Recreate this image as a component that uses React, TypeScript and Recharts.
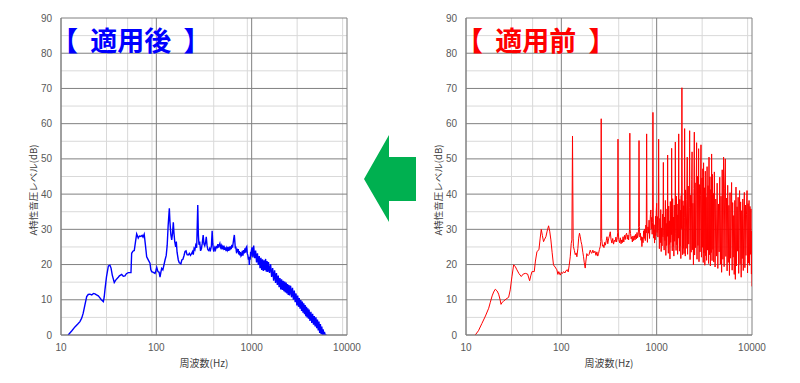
import { CartesianGrid, Line, LineChart, XAxis, YAxis } from 'recharts';

type Pair = [number, number];

const FREQ_TICKS = [10, 100, 1000, 10000];
const LEVEL_TICKS = [0, 10, 20, 30, 40, 50, 60, 70, 80, 90];
const MINOR_FREQS = [
  20, 30, 40, 50, 60, 70, 80, 90, 200, 300, 400, 500, 600, 700, 800, 900, 2000, 3000, 4000, 5000, 6000, 7000, 8000,
  9000,
];
const MINOR_LEVELS = [5, 15, 25, 35, 45, 55, 65, 75, 85];

// 適用後 (blue)
const afterLow: Pair[] = [
  [11.9, 0], [13, 1.2], [14, 2.3], [15, 3.1], [15.8, 3.8], [16.5, 4.8], [17.1, 6.2], [17.8, 8.5], [18.6, 10.9],
  [19.3, 11.5], [20.1, 11.6], [21, 11.4], [22, 11.8], [22.7, 11.7], [23.6, 11.4], [24.6, 11.1], [25.5, 10.6],
  [26.5, 10], [27.8, 9.5], [28.4, 10.8], [28.9, 12.8], [30, 16.5], [31.4, 19.6], [32.6, 19.8], [33.5, 19],
  [34.5, 17], [36.2, 14.9], [37.5, 15.6], [39.9, 16.4], [41, 16.8], [43.3, 17.2], [45, 16.7], [46.9, 16.8],
  [48.5, 17.4], [50.8, 17.7], [54.2, 17.7], [55.1, 23.2], [56.8, 23.8], [58.7, 24], [60.5, 26.5], [62.2, 28.7],
  [63.3, 28.2], [64.6, 27.5], [66.5, 28.1], [68.9, 28], [71, 28.3], [72.5, 27.8], [74.6, 28.6], [76.5, 26],
  [79.2, 22.2], [82, 21.4], [85.8, 20.4], [87.5, 18.6], [89.3, 18], [93, 17.8], [96.9, 17.5], [99, 18.3],
  [101, 19.2], [104, 18], [107, 17.8], [109.3, 16.4], [111.5, 17.8], [113.8, 18.9], [117, 18.5], [120, 19.8],
  [123.4, 21.3], [127, 22.6], [130, 25.5], [133, 31], [136.9, 36], [139, 32], [142, 28.5], [145, 27], [148, 29],
  [150.7, 32], [153, 29], [156, 26.5], [159.6, 25], [162, 26.5], [165, 23.5], [170, 21.3], [174, 20.5],
  [177, 20.4], [181, 20.2], [185, 21.3], [190, 21.5], [195, 22.5], [200, 23.7],
];

const afterMid: Pair[] = [
  [205, 23.9], [210, 22.8], [216, 22.7], [222, 23.2], [228, 22.6], [234, 23.1], [240, 23.7], [244, 22.8],
  [249, 24.6], [254, 24.2], [259, 25.5], [265, 24.8], [272, 36.9], [276, 28.5], [280, 25.6], [285, 26.5],
  [291, 23.9], [297, 24.5], [303, 26], [310, 28.4], [316, 25.8], [322, 25.3], [328, 26.2], [334, 27.9],
  [340, 25.5], [347, 24.2], [356, 23.9], [363, 24.6], [370, 24.1], [378, 25.2], [385, 29.6], [391, 26],
  [396, 24.4], [401, 23.7], [410, 24.8], [418, 24.2], [426, 25.3], [434, 24.6], [442, 25.8], [450, 24.8],
  [457, 25.5], [464, 26], [472, 24.9], [480, 25.4], [488, 24.3], [496, 25.1], [504, 24.6], [512, 25.4],
  [521, 24.2], [530, 24.9], [539, 23.8], [548, 24.7], [557, 24.1], [566, 25], [575, 23.9], [584, 24.6],
  [591, 24.1], [600, 25.2], [610, 24.4], [620, 25.6], [630, 24.8], [640, 26.2], [650, 27.5], [658, 28.4],
  [666, 26.5], [674, 24.6], [682, 25.1], [690, 23.8], [696, 23.2], [705, 24.5], [714, 23.6], [723, 24.4],
  [732, 22.9], [742, 23.8], [752, 22.6], [762, 23.5], [773, 22.4], [786, 22.7], [798, 23.9], [810, 22.5],
  [822, 24.1], [836, 23.2], [850, 24.6], [862, 23.4], [875, 24.8], [888, 25.1], [900, 23.1], [912, 22.6],
  [924, 21.4], [935, 22.2], [945, 19.9], [955, 22.1], [965, 21.4], [975, 23.6], [985, 22.3], [995, 24.1],
];

const afterHigh: Pair[] = [
  [1010, 24.9], [1030, 22], [1050, 25.4], [1075, 21.8], [1100, 24], [1125, 20.6], [1150, 23.2], [1175, 19.9],
  [1200, 22.4], [1225, 19], [1250, 21.9], [1275, 18.5], [1300, 21.5], [1325, 18.2], [1350, 21.2], [1375, 18.4],
  [1400, 21.6], [1425, 18], [1450, 21], [1475, 17.9], [1500, 20.7], [1540, 17.6], [1580, 20.1], [1620, 16.5],
  [1660, 19], [1700, 15.4], [1740, 18.4], [1780, 14.8], [1820, 17.6], [1860, 14.2], [1900, 16.9], [1940, 13.6],
  [1980, 16.2], [2020, 12.9], [2060, 15.8], [2100, 12.8], [2140, 15.4], [2180, 12.4], [2220, 15.2], [2260, 12.1],
  [2300, 14.9], [2340, 11.8], [2380, 14.5], [2420, 11.4], [2460, 14.2], [2500, 11.2], [2560, 14], [2620, 10.7],
  [2680, 13.4], [2740, 10], [2800, 12.6], [2860, 9.3], [2920, 11.8], [2980, 8.4], [3040, 11.2], [3100, 8],
  [3160, 10.5], [3220, 7.5], [3280, 9.9], [3340, 6.8], [3400, 9.5], [3460, 6.3], [3520, 9], [3580, 5.9],
  [3640, 8.5], [3700, 5.3], [3760, 8], [3820, 5], [3880, 7.6], [3940, 4.6], [4000, 7.2], [4090, 4],
  [4180, 6.6], [4270, 3.4], [4360, 6], [4450, 2.9], [4540, 5.4], [4630, 2.4], [4720, 5], [4810, 1.9], [4900, 4.4],
  [4990, 1.3], [5080, 3.8], [5170, 0.6], [5260, 3.1], [5350, 0.2], [5440, 2.4], [5530, 0], [5620, 1.6],
  [5710, 0], [5800, 0.9], [5900, 0], [6100, 0],
];

// 適用前 (red)
const beforeLow: Pair[] = [
  [12.5, 0], [13.5, 1.2], [14.7, 3.3], [16, 5.4], [17.3, 7.6], [18, 9.3], [18.8, 11.1], [19.5, 12.2], [20.3, 13],
  [21.2, 12.5], [22, 11.6], [22.7, 10.2], [23.3, 8.7], [24, 9.3], [24.8, 9.6], [26.3, 10.2], [28, 10.7],
  [29.1, 12.8], [30.3, 16.5], [31.6, 19.9], [32.8, 19.5], [34.2, 18.5], [36, 17.4], [38, 16.6], [39.8, 17.3],
  [41.9, 17.5], [44.3, 17.3], [46.5, 15.4], [47.8, 16.8], [49.2, 18], [52, 18], [53.5, 21], [55.5, 23.7],
  [58.2, 24.2], [60, 27.5], [61.6, 30], [63.3, 28.2], [65.1, 26.5], [66.8, 27.2], [68.9, 27.9], [71, 29.5],
  [73.5, 31], [75.5, 29.5], [77.7, 27], [80, 23.5], [82.7, 19.9], [86, 19.3], [89.8, 18.5], [92, 17.2], [94, 18],
  [97.4, 17], [100, 17.8], [103, 17.5], [105.5, 18], [109, 17.6], [112, 18.3], [116, 18.5], [118, 17.9],
  [121, 19.8], [124, 22.2], [127, 26], [129, 27], [131, 56.5], [133, 27.5], [134, 25.1], [137, 24], [140, 22.8],
  [143, 23.3], [145.6, 22.2], [149, 24.5], [152, 27.5], [155, 28.9], [158, 27.9], [161, 26.5], [164, 25.6],
  [168, 23.5], [171, 22.2], [174, 20.5], [178, 19], [181, 21], [185, 23.1], [190, 22.5], [195, 22.8], [201, 24.1],
  [205, 23.4], [209, 23.2], [214, 24.1], [219, 23.3], [225, 23.8], [231, 22.6], [236, 23.6], [241, 22.4],
  [246, 23.2], [251, 24.3], [256, 25.1],
];

const beforeMid: Pair[] = [
  [259, 26.5], [262, 61.4], [265, 27.5], [270, 25.2], [274, 25.6], [280, 24.8], [285, 26.3], [290, 25.5],
  [296, 26.8], [301, 27.9], [307, 25.9], [313, 27.3], [319, 28.1], [326, 29.3], [332, 27.2], [339, 26.1],
  [346, 27.4], [353, 25.8], [360, 26.9], [367, 26.5], [374, 27.8], [380, 26.4], [386, 27.6], [390, 29],
  [393, 55.6], [396, 29.5], [400, 27.1], [408, 26.2], [416, 27.6], [423, 25.9], [429, 27], [436, 26.2],
  [444, 27.9], [452, 26.4], [460, 28.3], [468, 27.1], [476, 28.5], [484, 28.9], [492, 27.2], [500, 28.4],
  [508, 27], [514, 28.6], [520, 30], [523, 57.3], [526, 30], [532, 28.8], [540, 27.3], [548, 27.9], [556, 26.4],
  [564, 28.1], [573, 26.8], [583, 28.2], [593, 27], [603, 28.6], [613, 27.3], [622, 29.1], [631, 27.6],
  [640, 28.4], [647, 30.5], [653, 55.2], [659, 30.8], [666, 27.8], [675, 28.9], [684, 26.9], [692, 27.9],
  [700, 25.1], [710, 27.7], [720, 26.2], [730, 29.6], [740, 27.4], [750, 30.1], [760, 26.8], [770, 31.2],
  [778, 29], [785, 57.1], [792, 29.5], [800, 26.3], [810, 30.7], [823, 28.9], [832, 32.6], [842, 27.4],
  [852, 31.8], [860, 34.2], [869, 35.5], [878, 30.1], [887, 33.4], [897, 28.6], [906, 31.9], [914, 63.2],
  [922, 33.2], [930, 27.5], [940, 31.3], [950, 26.1], [957, 29.8], [964, 27], [972, 33.7], [980, 28.2],
  [990, 35.2], [1000, 37.4], [1010, 29.1], [1020, 33.6], [1030, 27.8], [1040, 31.2],
];

const beforeUpper: Pair[] = [
  [1049, 55.6], [1058, 30.2], [1068, 24.5], [1080, 33.1], [1092, 26.2], [1104, 35.6], [1116, 23.7], [1128, 30.4],
  [1140, 25.3], [1152, 34.3], [1164, 27.9], [1175, 49], [1186, 28.2], [1198, 24.1], [1210, 33.5], [1222, 26.8],
  [1235, 38.2], [1248, 22.6], [1260, 31.7], [1272, 25.4], [1285, 35.8], [1295, 28], [1303, 51.1], [1312, 29.4],
  [1325, 23.2], [1338, 36.6], [1350, 25.7], [1364, 32.4], [1378, 21.6], [1391, 37.9], [1404, 26.3],
  [1418, 34.8], [1428, 28.5], [1436, 53], [1445, 29.2], [1458, 23.9], [1472, 38.7], [1486, 25.1], [1500, 33.5],
  [1515, 22.4], [1530, 36.9], [1545, 26.6], [1558, 31.2], [1570, 54.8], [1583, 28.7], [1598, 24], [1613, 39.4],
  [1628, 25.6], [1643, 34.1], [1658, 22.9], [1673, 37.2], [1688, 27.5], [1703, 57.1], [1718, 29.8],
  [1733, 23.8], [1748, 38.5], [1763, 25.2], [1778, 35.4], [1793, 21.7], [1808, 39.6], [1823, 30.2],
  [1840, 70.2], [1856, 31.5], [1872, 22.8], [1888, 38.1], [1904, 24.6], [1920, 36.7], [1936, 23.1],
  [1952, 33.4], [1965, 58.6], [1980, 30.5], [1996, 22.4],
];

const beforeHigh: Pair[] = [
  [2010, 41.2], [2040, 24.6], [2070, 38.5], [2093, 50.5], [2110, 22.9], [2140, 42.3], [2170, 25.8], [2200, 36.2],
  [2218, 58], [2240, 21.4], [2270, 39.7], [2300, 23.5], [2330, 44.1], [2352, 52], [2370, 24.2], [2400, 37.4],
  [2430, 19.9], [2460, 41.6], [2483, 57.6], [2500, 22.7], [2530, 43.2], [2560, 24.8], [2590, 38.3],
  [2625, 54.6], [2650, 21.5], [2680, 45.1], [2710, 25.4], [2740, 36.9], [2754, 52.9], [2780, 20.8],
  [2820, 42.7], [2850, 23.6], [2880, 39.5], [2917, 54], [2950, 22.1], [2990, 44.6], [3020, 24.9], [3050, 47.2],
  [3080, 20.6], [3105, 48.9], [3130, 23.3], [3170, 41.8], [3200, 19.8], [3240, 46.5], [3270, 22.5], [3300, 39.1],
  [3340, 21.2], [3380, 47.8], [3420, 24.1], [3460, 42.4], [3500, 20.3], [3540, 50.5], [3580, 22.8],
  [3620, 44.9], [3660, 19.6], [3700, 41.3], [3740, 23.4], [3770, 51.4], [3810, 21.1], [3850, 45.6],
  [3890, 24.3], [3930, 40.2], [3970, 20.7], [4030, 46.3], [4100, 19.3], [4170, 38.6], [4240, 22.4],
  [4310, 43.1], [4380, 18.9], [4450, 37.2], [4520, 23.6], [4590, 44.8], [4660, 20.1], [4730, 39.4],
  [4800, 17.8], [4870, 46.9], [4950, 21.5], [5035, 50.5], [5100, 19.4], [5170, 41.7], [5250, 50], [5320, 22.3],
  [5400, 38.9], [5480, 18.2], [5560, 42.5], [5640, 20.6], [5720, 36.8], [5800, 16.9], [5880, 40.4],
  [5960, 21.8], [6040, 35.5], [6110, 43.3], [6190, 18.4], [6270, 37.6], [6350, 22.1], [6430, 33.9],
  [6510, 17.2], [6600, 38.2], [6690, 15.8], [6790, 42], [6880, 19.6], [6970, 36.4], [7060, 23.8], [7150, 39.1],
  [7250, 17.5], [7330, 34.7], [7410, 41], [7500, 20.2], [7600, 37.8], [7700, 16.4], [7800, 35.3], [7900, 21.7],
  [8000, 38.6], [8100, 18.3], [8200, 33.2], [8310, 40.5], [8420, 19.1], [8530, 36.9], [8640, 22.6],
  [8750, 34.1], [8870, 41], [8980, 17.6], [9090, 37.3], [9200, 20.4], [9310, 38.2], [9420, 19.8], [9530, 36.5],
  [9640, 22.9], [9750, 35.8], [9860, 17.3], [9930, 29.5], [10000, 13.8],
];

const toRows = (pairs: Pair[]) => pairs.map(([freq, level]) => ({ freq, level }));

const afterData = toRows([...afterLow, ...afterMid, ...afterHigh]);
const beforeData = toRows([...beforeLow, ...beforeMid, ...beforeUpper, ...beforeHigh]);

const TICK_STYLE = { fontSize: 10, fill: '#595959', fontFamily: 'Liberation Sans, Arial, sans-serif' };
const JP_FONT = '"Noto Sans CJK JP", sans-serif';

type SpectrumProps = {
  left: number;
  data: { freq: number; level: number }[];
  color: string;
  strokeWidth: number;
  title: string;
  yAxisWidth: number;
  rightMargin: number;
  titleLeft: number;
};

function Spectrum({ left, data, color, strokeWidth, title, yAxisWidth, rightMargin, titleLeft }: SpectrumProps) {
  const plotCenter = yAxisWidth + (400 - yAxisWidth - rightMargin) / 2;
  return (
    <div style={{ position: 'absolute', left, top: 0, width: 400, height: 383 }}>
      <LineChart width={400} height={383} data={data} margin={{ top: 18, right: rightMargin, bottom: 18, left: 0 }}>
        <CartesianGrid stroke="#d9d9d9" verticalValues={MINOR_FREQS} horizontalValues={MINOR_LEVELS} />
        <CartesianGrid stroke="#808080" />
        <XAxis
          dataKey="freq"
          type="number"
          scale="log"
          domain={[10, 10000]}
          ticks={FREQ_TICKS}
          allowDataOverflow
          height={30}
          tickSize={0}
          tickMargin={9}
          tick={TICK_STYLE}
          axisLine={{ stroke: '#808080' }}
        />
        <YAxis
          dataKey="level"
          type="number"
          domain={[0, 90]}
          ticks={LEVEL_TICKS}
          allowDataOverflow
          width={yAxisWidth}
          tickSize={0}
          tickMargin={9}
          tick={TICK_STYLE}
          axisLine={{ stroke: '#808080' }}
        />
        <Line
          dataKey="level"
          stroke={color}
          strokeWidth={strokeWidth}
          dot={false}
          type="linear"
          isAnimationActive={false}
        />
      </LineChart>
      <div
        style={{
          position: 'absolute',
          left: titleLeft,
          top: 26,
          fontFamily: JP_FONT,
          fontWeight: 700,
          fontSize: 27,
          lineHeight: 1,
          color,
          whiteSpace: 'pre',
        }}
      >
        {title}
      </div>
      <div
        style={{
          position: 'absolute',
          left: yAxisWidth - 28,
          top: 190,
          transform: 'translate(-50%, -50%) rotate(-90deg)',
          fontFamily: JP_FONT,
          fontSize: 9.5,
          color: '#404040',
          whiteSpace: 'nowrap',
        }}
      >
        A特性音圧レベル(dB)
      </div>
      <div
        style={{
          position: 'absolute',
          left: plotCenter,
          top: 362,
          transform: 'translate(-50%, -50%)',
          fontFamily: JP_FONT,
          fontSize: 10,
          color: '#404040',
          whiteSpace: 'nowrap',
        }}
      >
        周波数(Hz)
      </div>
    </div>
  );
}

export default function App() {
  return (
    <div style={{ position: 'absolute', left: 0, top: 0, width: 800, height: 383, background: '#fff' }}>
      <Spectrum
        left={0}
        data={afterData}
        color="#0000ff"
        strokeWidth={1.4}
        title="【  適用後  】"
        yAxisWidth={61}
        rightMargin={53}
        titleLeft={51}
      />
      <Spectrum
        left={400}
        data={beforeData}
        color="#ff0000"
        strokeWidth={1}
        title="【  適用前  】"
        yAxisWidth={66}
        rightMargin={48}
        titleLeft={56}
      />
      <svg style={{ position: 'absolute', left: 0, top: 0 }} width={800} height={383}>
        <polygon points="364,179 389,135 389,157 416,157 416,201 389,201 389,222" fill="#00b050" />
      </svg>
    </div>
  );
}
